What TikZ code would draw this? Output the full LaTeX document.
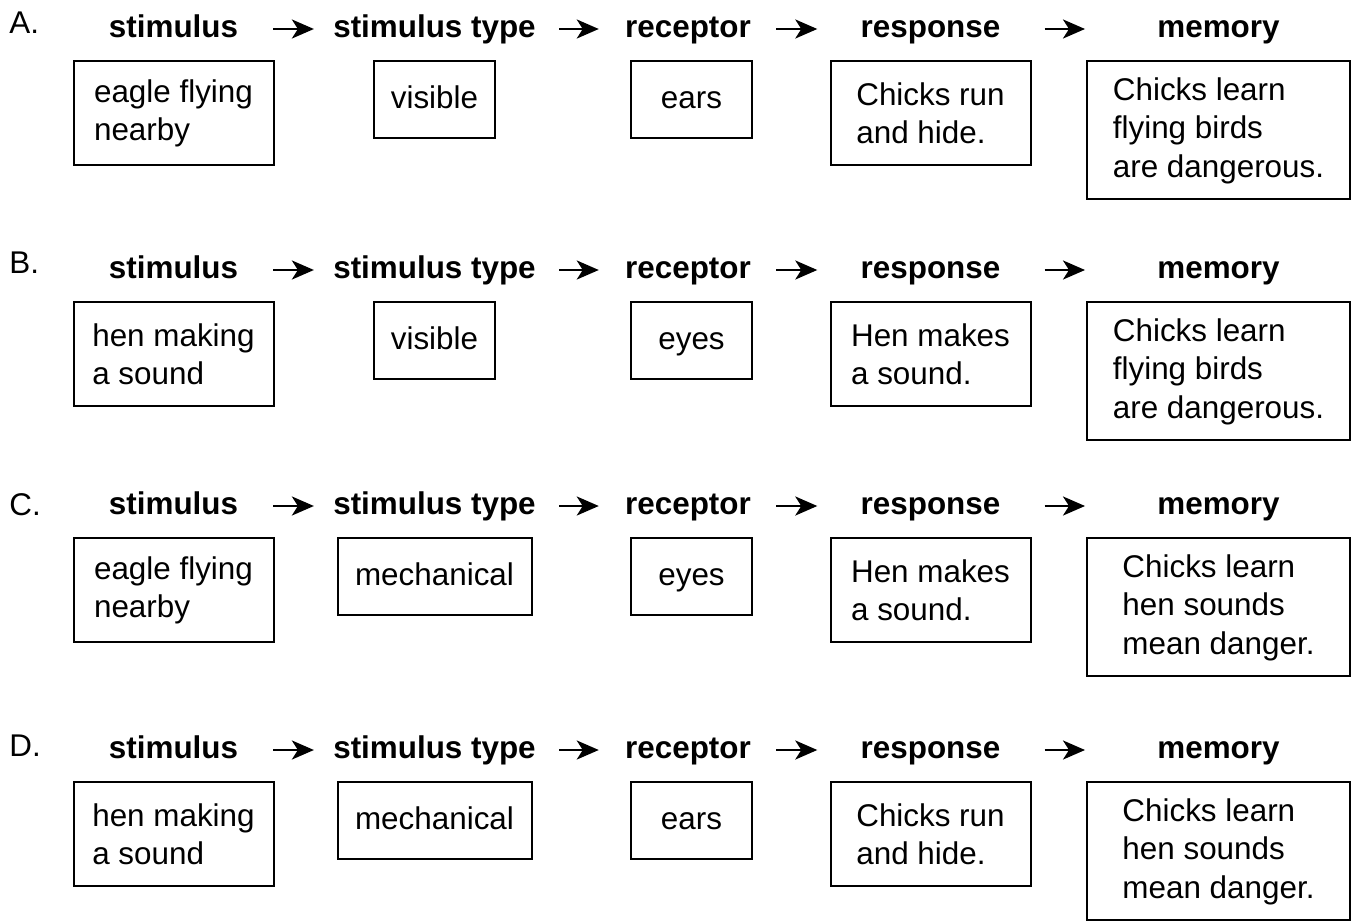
\documentclass[tikz,border=0pt]{standalone}
\usepackage{fontspec}
\setmainfont{Liberation Sans}
\usetikzlibrary{positioning,arrows.meta}

\begin{document}
\begin{tikzpicture}[
    x=0.5pt, y=-0.5pt,
    node distance=11.5pt,
    every node/.style={font=\fontsize{15.7}{19.25}\selectfont},
    head/.style={font=\fontsize{15.7}{19.25}\selectfont\bfseries, inner sep=0pt, text height=8pt, text depth=0pt, anchor=base},
    tag/.style={inner sep=0pt, anchor=base west},
    box/.style={draw, line width=1pt, inner sep=0pt, align=left},
    wide/.style={box, minimum width=100pt, minimum height=52pt},
    small/.style={box, minimum width=60.5pt, minimum height=38.5pt, text height=11.5pt, text depth=3pt},
    mid/.style={box, minimum width=97pt, minimum height=38.5pt, text height=11.5pt, text depth=3pt},
    big/.style={box, minimum width=131.5pt, minimum height=69pt},
    arr/.style={-{Stealth[length=11pt, width=9.5pt, inset=3pt]}, line width=1.3pt}
]
\useasboundingbox (0,0) rectangle (1354,921);

% same header line in every row
\foreach \row/\base in {a/37, b/278, c/514, d/758} {
  \node[head] (\row-stim) at (173.5,\base) {stimulus};
  \node[head] (\row-type) at (434.5,\base) {stimulus type};
  \node[head] (\row-rec)  at (688,\base)   {receptor};
  \node[head] (\row-resp) at (930.5,\base) {response};
  \node[head] (\row-mem)  at (1218.5,\base) {memory};
  \draw[arr, shorten <=17.5pt, shorten >=9.5pt] (\row-stim) -- (\row-type);
  \draw[arr, shorten <=11.5pt, shorten >=13pt]  (\row-type) -- (\row-rec);
  \draw[arr, shorten <=12.5pt, shorten >=21.5pt] (\row-rec) -- (\row-resp);
  \draw[arr, shorten <=22pt, shorten >=36pt]    (\row-resp) -- (\row-mem);
}

\node[tag] (a-tag) at (9,33)  {A.};
\node[tag] (b-tag) at (9,273) {B.};
\node[tag] (c-tag) at (9,515) {C.};
\node[tag] (d-tag) at (9,756) {D.};

% A
\node[wide,  below=of a-stim] (a-stimbox) {eagle flying\\nearby};
\node[small, below=of a-type] (a-typebox) {visible};
\node[small, below=of a-rec, xshift=1.75pt] (a-recbox) {ears};
\node[wide,  below=of a-resp] (a-respbox) {Chicks run\\and hide.};
\node[big,   below=of a-mem]  (a-membox)  {Chicks learn\\flying birds\\are dangerous.};

% B
\node[wide,  below=of b-stim] (b-stimbox) {hen making\\a sound};
\node[small, below=of b-type] (b-typebox) {visible};
\node[small, below=of b-rec, xshift=1.75pt] (b-recbox) {eyes};
\node[wide,  below=of b-resp] (b-respbox) {Hen makes\\a sound.};
\node[big,   below=of b-mem]  (b-membox)  {Chicks learn\\flying birds\\are dangerous.};

% C
\node[wide,  below=of c-stim] (c-stimbox) {eagle flying\\nearby};
\node[mid,   below=of c-type] (c-typebox) {mechanical};
\node[small, below=of c-rec, xshift=1.75pt] (c-recbox) {eyes};
\node[wide,  below=of c-resp] (c-respbox) {Hen makes\\a sound.};
\node[big,   below=of c-mem]  (c-membox)  {Chicks learn\\hen sounds\\mean danger.};

% D
\node[wide,  below=of d-stim] (d-stimbox) {hen making\\a sound};
\node[mid,   below=of d-type] (d-typebox) {mechanical};
\node[small, below=of d-rec, xshift=1.75pt] (d-recbox) {ears};
\node[wide,  below=of d-resp] (d-respbox) {Chicks run\\and hide.};
\node[big,   below=of d-mem]  (d-membox)  {Chicks learn\\hen sounds\\mean danger.};
\end{tikzpicture}
\end{document}
